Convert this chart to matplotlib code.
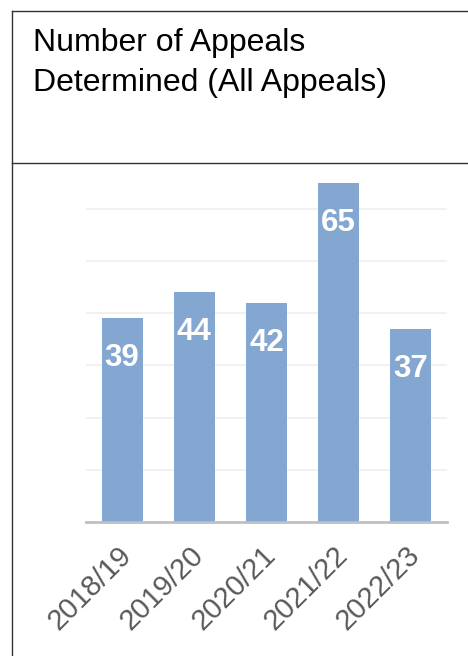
import matplotlib
matplotlib.use("Agg")
import matplotlib.pyplot as plt
from matplotlib.lines import Line2D
import matplotlib.transforms as mtransforms

categories = ["2018/19", "2019/20", "2020/21", "2021/22", "2022/23"]
values = [39, 44, 42, 65, 37]
yticks = [10, 20, 30, 40, 50, 60]
title_lines = ["Number of Appeals", "Determined (All Appeals)"]

plt.rcParams['font.family'] = ['Liberation Sans', 'DejaVu Sans']

W, H = 468, 656
fig = plt.figure(figsize=(W / 100, H / 100), dpi=100)

def fx(px):
    return px / W

def fy(py):
    return 1 - py / H

# frame lines
lc = "#333333"
fig.add_artist(Line2D([fx(12), 1], [fy(11), fy(11)], color=lc, lw=1.0, transform=fig.transFigure))
fig.add_artist(Line2D([fx(12), fx(12)], [fy(11), 0], color=lc, lw=1.0, transform=fig.transFigure))
fig.add_artist(Line2D([fx(12), 1], [fy(162.5), fy(162.5)], color=lc, lw=1.0, transform=fig.transFigure))

# title
fig.text(fx(33), fy(51), title_lines[0], fontsize=23, color="#000000", va="baseline", ha="left")
fig.text(fx(33), fy(91), title_lines[1], fontsize=23, color="#000000", va="baseline", ha="left")

# axes
ymax = 68
unit = 5.223
top_px = 522 - ymax * unit
ax = fig.add_axes([fx(86), fy(522), fx(447) - fx(86), (522 - top_px) / H])
x = list(range(len(categories)))
ax.bar(x, values, width=0.57, color="#84a7d1", zorder=3)
ax.set_xlim(-0.5, len(categories) - 0.5)
ax.set_ylim(0, ymax)
ax.set_yticks(yticks)
ax.yaxis.grid(True, color="#efefef", lw=1.2, zorder=0)
ax.tick_params(axis="y", length=0, labelleft=False)
ax.tick_params(axis="x", length=0, pad=3.5)
for s in ax.spines.values():
    s.set_visible(False)
ax.axhline(0, color="#bfbfbf", lw=2.0, zorder=4, clip_on=False)
ax.set_xticks(x)
ax.set_xticklabels(categories, rotation=45, ha="right", va="center",
                   rotation_mode="anchor", fontsize=21, color="#595959")
shift = mtransforms.ScaledTranslation(5 / 100, -24 / 100, fig.dpi_scale_trans)
for lbl in ax.get_xticklabels():
    lbl.set_transform(lbl.get_transform() + shift)

for xi, v in zip(x, values):
    ax.annotate(str(v), (xi, v), xytext=(0, -40 * 0.72), textcoords="offset points",
                ha="center", va="center", fontsize=22.5, fontweight="bold", color="white", zorder=5)

fig.savefig("out.png", dpi=100)
